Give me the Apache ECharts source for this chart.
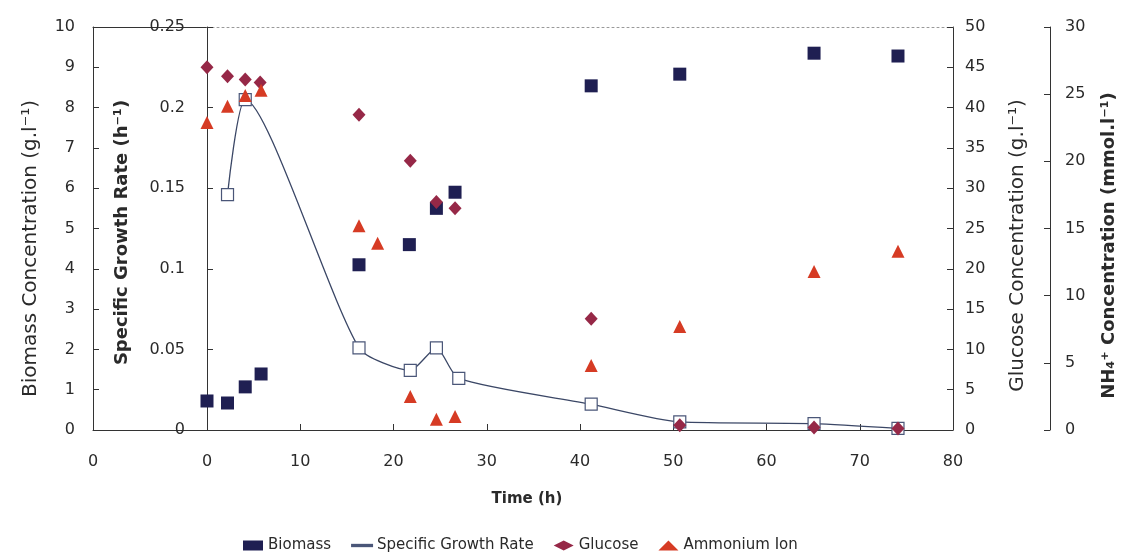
<!DOCTYPE html>
<html>
<head>
<meta charset="utf-8">
<script src="https://cdn.jsdelivr.net/npm/echarts@6/dist/echarts.min.js"></script>
<style>html,body{margin:0;padding:0;background:#fff}#c{width:1126px;height:559px}</style>
</head>
<body>
<div id="c"></div>
<script>
// Time points (h)
const biomassTime = [0, 2.2, 4.1, 5.8, 16.3, 21.7, 24.6, 26.6, 41.2, 50.7, 65.1, 74.1];
const biomassValues = [0.72, 0.67, 1.07, 1.39, 4.1, 4.6, 5.5, 5.9, 8.54, 8.83, 9.35, 9.28];

const growthTime = [2.2, 4.1, 16.3, 21.8, 24.6, 27.0, 41.2, 50.7, 65.1, 74.1];
const growthValues = [0.146, 0.205, 0.051, 0.037, 0.051, 0.032, 0.016, 0.005, 0.004, 0.001];

const glucoseTime = [0, 2.2, 4.1, 5.7, 16.3, 21.8, 24.6, 26.6, 41.2, 50.7, 65.1, 74.1];
const glucoseValues = [45.0, 43.9, 43.5, 43.1, 39.1, 33.4, 28.3, 27.5, 13.8, 0.6, 0.3, 0.2];

const ammoniumTime = [0, 2.2, 4.1, 5.8, 16.3, 18.3, 21.8, 24.6, 26.6, 41.2, 50.7, 65.1, 74.1];
const ammoniumValues = [22.9, 24.1, 24.9, 25.3, 15.2, 13.9, 2.5, 0.8, 1.0, 4.8, 7.7, 11.8, 13.3];

const seriesNames = ['Biomass', 'Specific Growth Rate', 'Glucose', 'Ammonium Ion'];
const axisTitles = {
  biomass: 'Biomass Concentration (g.l\u207B\u00B9)',
  growth: 'Specific Growth Rate (h\u207B\u00B9)',
  glucose: 'Glucose Concentration (g.l\u207B\u00B9)',
  ammonium: 'NH\u2084\u207A Concentration (mmol.l\u207B\u00B9)',
  time: 'Time (h)'
};

const zip = (a, b) => a.map((v, i) => [v, b[i]]);

const FONT = 'DejaVu Sans';
const TXT = '#2a2a2a';
const AX = '#333';

const chart = echarts.init(document.getElementById('c'));
const tickLabel = {color: TXT, fontFamily: FONT, fontSize: 16};
const tick = {show: true, inside: true, length: 6, lineStyle: {color: AX}};

chart.setOption({
  backgroundColor: '#fff',
  animation: false,
  title: {
    text: axisTitles.time,
    left: 522, top: 487, textAlign: 'center',
    textStyle: {fontFamily: FONT, fontSize: 15, fontWeight: 'bold', color: TXT}
  },
  grid: [
    {left: 93, width: 114, top: 27, bottom: 129, containLabel: false},
    {left: 207, right: 171, top: 27, bottom: 129, containLabel: false}
  ],
  legend: {
    bottom: 1, left: 238,
    itemGap: 20, itemWidth: 20, itemHeight: 10,
    textStyle: {fontFamily: FONT, fontSize: 15, color: TXT},
    data: [
      {name: 'Biomass', icon: 'rect', itemStyle: {color: '#1f1f52'}},
      {name: 'Specific Growth Rate', icon: 'path://M0,4H30V6H0Z', itemStyle: {color: '#3b4766'}},
      {name: 'Glucose', icon: 'diamond'},
      {name: 'Ammonium Ion', icon: 'triangle'}
    ]
  },
  xAxis: [
    { // left stub of the time axis
      gridIndex: 0, type: 'value', min: 0, max: 1, interval: 1,
      axisLine: {show: true, onZero: false, lineStyle: {color: AX, width: 1}},
      axisTick: {show: false}, splitLine: {show: false},
      axisLabel: Object.assign({}, tickLabel, {margin: 24, formatter: v => v === 0 ? '0' : ''})
    },
    {
      gridIndex: 1, type: 'value', position: 'bottom', min: 0, max: 80, interval: 10,
      axisLine: {show: true, onZero: false, lineStyle: {color: AX, width: 1}},
      axisTick: tick,
      splitLine: {show: false},
      axisLabel: Object.assign({}, tickLabel, {margin: 24})
    },
    { // top frame, left part
      gridIndex: 0, type: 'value', position: 'top', min: 0, max: 1,
      axisLine: {show: true, onZero: false, lineStyle: {color: AX, width: 1}},
      axisTick: {show: false}, axisLabel: {show: false}, splitLine: {show: false}
    },
    { // top frame, dotted
      gridIndex: 1, type: 'value', position: 'top', min: 0, max: 80,
      axisLine: {show: true, onZero: false, lineStyle: {color: '#999', width: 1, type: [2, 3]}},
      axisTick: {show: false}, axisLabel: {show: false}, splitLine: {show: false}
    }
  ],
  yAxis: [
    { // hidden axis for stub grid
      gridIndex: 0, type: 'value', min: 0, max: 10, show: false
    },
    { // Specific growth rate
      gridIndex: 1, type: 'value', position: 'left', min: 0, max: 0.25, interval: 0.05,
      name: axisTitles.growth, nameLocation: 'middle', nameGap: 76, nameRotate: 90,
      nameTextStyle: {fontFamily: FONT, fontSize: 18, fontWeight: 'bold', color: TXT, padding: [0, 8, 0, 0]},
      axisLine: {show: true, onZero: false, lineStyle: {color: AX}},
      axisTick: tick,
      splitLine: {show: false},
      axisLabel: Object.assign({}, tickLabel, {margin: 22, formatter: v => v === 0 ? '0' : String(+v.toFixed(2))})
    },
    { // Biomass
      gridIndex: 1, type: 'value', position: 'left', offset: 114, min: 0, max: 10, interval: 1,
      name: axisTitles.biomass, nameLocation: 'middle', nameGap: 52, nameRotate: 90,
      nameTextStyle: {fontFamily: FONT, fontSize: 20, color: TXT, padding: [0, 40, 0, 0]},
      axisLine: {show: true, onZero: false, lineStyle: {color: AX}},
      axisTick: tick,
      splitLine: {show: false},
      axisLabel: Object.assign({}, tickLabel, {margin: 18})
    },
    { // Glucose
      gridIndex: 1, type: 'value', position: 'right', min: 0, max: 50, interval: 5,
      name: axisTitles.glucose, nameLocation: 'middle', nameGap: 55, nameRotate: 90,
      nameTextStyle: {fontFamily: FONT, fontSize: 20, color: TXT, padding: [0, 34, 0, 0]},
      axisLine: {show: true, onZero: false, lineStyle: {color: AX}},
      axisTick: tick,
      splitLine: {show: false},
      axisLabel: Object.assign({}, tickLabel, {margin: 12})
    },
    { // Ammonium
      gridIndex: 1, type: 'value', position: 'right', offset: 97, min: 0, max: 30, interval: 5,
      name: axisTitles.ammonium, nameLocation: 'middle', nameGap: 50, nameRotate: 90,
      nameTextStyle: {fontFamily: FONT, fontSize: 18, fontWeight: 'bold', color: TXT, padding: [0, 34, 0, 0]},
      axisLine: {show: true, onZero: false, lineStyle: {color: AX}},
      axisTick: tick,
      splitLine: {show: false},
      axisLabel: Object.assign({}, tickLabel, {margin: 15})
    }
  ],
  series: [
    {
      name: seriesNames[1], type: 'line', xAxisIndex: 1, yAxisIndex: 1,
      data: zip(growthTime, growthValues), smooth: 0.22,
      symbol: 'rect', symbolSize: 12, showAllSymbol: true,
      lineStyle: {color: '#3b4766', width: 1.3, opacity: 1},
      itemStyle: {color: '#fff', borderColor: '#4a5678', borderWidth: 1.2, opacity: 1},
      z: 2
    },
    {
      name: seriesNames[0], type: 'scatter', xAxisIndex: 1, yAxisIndex: 2,
      data: zip(biomassTime, biomassValues),
      symbol: 'rect', symbolSize: 13,
      itemStyle: {color: '#1f1f52', opacity: 1}, z: 3
    },
    {
      name: seriesNames[2], type: 'scatter', xAxisIndex: 1, yAxisIndex: 3,
      data: zip(glucoseTime, glucoseValues),
      symbol: 'diamond', symbolSize: [13, 14],
      itemStyle: {color: '#962847', opacity: 1}, z: 4
    },
    {
      name: seriesNames[3], type: 'scatter', xAxisIndex: 1, yAxisIndex: 4,
      data: zip(ammoniumTime, ammoniumValues),
      symbol: 'triangle', symbolSize: [13, 13],
      itemStyle: {color: '#d63b24', opacity: 1}, z: 5
    }
  ]
});
</script>
</body>
</html>
